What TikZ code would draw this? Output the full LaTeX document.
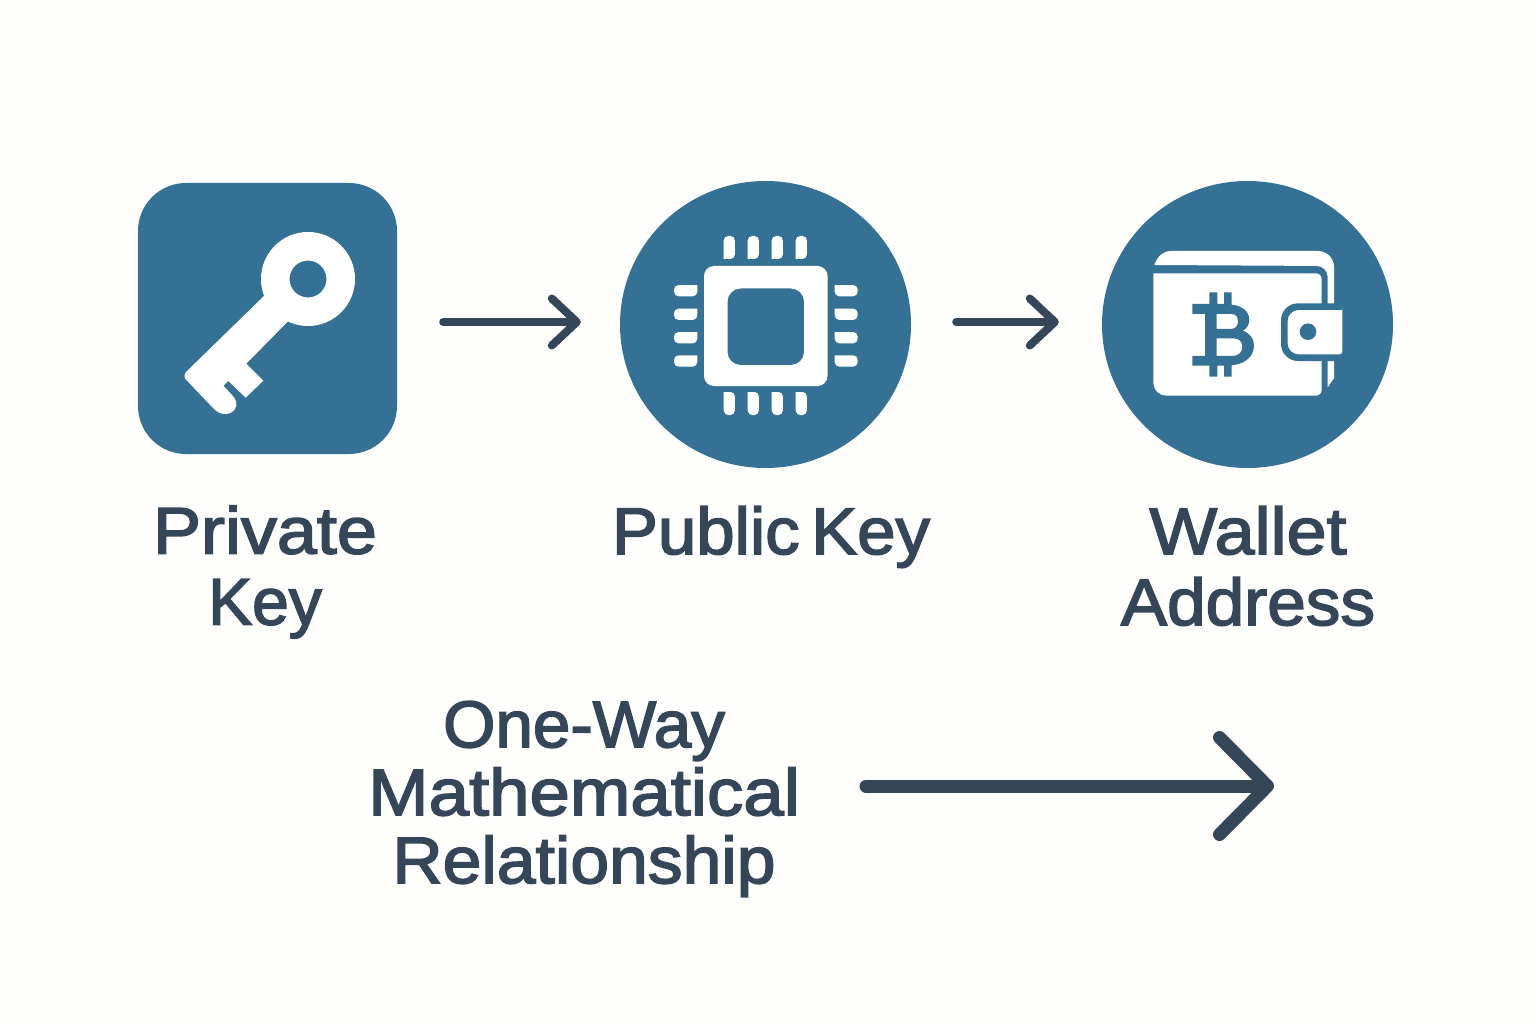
\documentclass[tikz,border=0pt]{standalone}
\usepackage{fontspec}
\setmainfont[FakeBold=2.4,FakeStretch=1.09,WordSpace=0.6]{Liberation Sans}
\usetikzlibrary{arrows.meta,shapes.geometric}
\definecolor{iconblue}{HTML}{347194}
\definecolor{inkslate}{HTML}{364659}
\definecolor{papertone}{HTML}{FEFEFC}
\newcommand{\capwidth}[1]{\addfontfeature{FakeStretch=#1}}
\tikzset{
  icondisc/.style={ellipse,fill=iconblue,inner sep=0pt,minimum width=291pt,minimum height=287pt},
  iconsquare/.style={rectangle,fill=iconblue,inner sep=0pt,rounded corners=48pt,minimum width=259pt,minimum height=271pt},
  caption/.style={text=inkslate,align=center,inner sep=0pt,font=\fontsize{66}{71}\selectfont},
  flowarrow/.style={draw=inkslate,line width=8pt,line cap=round,-{Straight Barb[round,length=25pt,width=47pt,line width=8pt]}},
  pin/.style={fill=white,rounded corners=4.5pt}
}
\begin{document}
\begin{tikzpicture}[x=1pt,y=-1pt]
		\useasboundingbox[fill=papertone] (0,0) rectangle (1536,1024);
		% Place nodes
		\node [iconsquare] (keybox) at (267.5,318.5) {};
		\node [icondisc] (chipdisc) at (765.5,324.5) {};
		\node [icondisc] (walletdisc) at (1247.5,324.5) {};

		\node [caption] (private) at (265,572) {Private\\{\capwidth{1.0}Key}};
		\node [caption] (public) at (771,537) {{\capwidth{1.045}Public Key}};
		\node [caption] (address) at (1248,566) {Wallet\\{\capwidth{1.05}Address}};
		\node [caption,font=\fontsize{66}{68}\selectfont] (relation) at (584,799) {{\capwidth{1.02}One-Way}\\{\capwidth{1.1}Mathematical}\\{\capwidth{1.055}Relationship}};

		% Arrows
		\draw [flowarrow,shorten <=46pt,shorten >=39pt] (keybox.east |- 0,322) -- (chipdisc.west |- 0,322);
		\draw [flowarrow,shorten <=45pt,shorten >=43pt] (chipdisc.east |- 0,322) -- (walletdisc.west |- 0,322);
		\coordinate (bigstart) at (866,786);
		\coordinate (bigtip) at (1274,786);
		\draw [draw=inkslate,line width=13pt,line cap=round,-{Straight Barb[round,length=48pt,width=97pt,line width=13pt]}] (bigstart) -- (bigtip);

		% Key
		\fill [white] (264.3,295.7) -- (186,372) [rounded corners=3pt] -- (183.5,377) [sharp corners] -- (215,410)
			.. controls (222,416) and (231,415) .. (235,409) .. controls (238,404) and (236,399) .. (232,395)
			-- (223.3,385.7) -- (228.3,381) -- (245.7,397.7)
			-- (263.3,380.7) -- (246.3,363.7) -- (288.3,321) -- cycle;
		\fill [white,even odd rule] (308,279) circle [radius=47] (308,279) circle [radius=18.5];

		% Chip
		\fill [white,even odd rule,rounded corners=10pt] (704,266) rectangle (827.5,386)
			[rounded corners=13pt] (727.5,288.5) rectangle (804,365);
		\foreach \pinx in {729.3,753.3,777.3,801.3} {
			\fill [pin] (\pinx-5.6,259) -- (\pinx-5.6,236) -- (\pinx+5.6,236) -- (\pinx+5.6,259) [sharp corners] -- cycle;
			\fill [pin] (\pinx-5.6,392) -- (\pinx-5.6,415) -- (\pinx+5.6,415) -- (\pinx+5.6,392) [sharp corners] -- cycle;
		}
		\foreach \piny in {290.7,314.3,337.7,361} {
			\fill [pin] (697.3,\piny-5.6) -- (674,\piny-5.6) -- (674,\piny+5.6) -- (697.3,\piny+5.6) [sharp corners] -- cycle;
			\fill [pin] (834.7,\piny-5.6) -- (857.7,\piny-5.6) -- (857.7,\piny+5.6) -- (834.7,\piny+5.6) [sharp corners] -- cycle;
		}

		% Wallet
		\fill [white] (1154.3,265) .. controls (1157,257) and (1163,251) .. (1171,251)
			[rounded corners=16pt] -- (1334,251) [sharp corners] -- (1334,378) -- (1327.7,387.3)
			[rounded corners=11pt] -- (1327.7,266) [sharp corners] -- cycle;
		\fill [white] (1167,273.3) [rounded corners=6pt] -- (1321.7,273.3) -- (1321.7,395.7) [rounded corners=13pt] -- (1153.3,395.7) [sharp corners] -- (1153.3,273.3) -- cycle;
		\fill [iconblue] (1342.3,303.3) [rounded corners=17pt] -- (1281,303.3) -- (1281,361) [sharp corners] -- (1342.3,361) -- cycle;
		\fill [white] (1342.3,310) [rounded corners=11pt] -- (1287.7,310) -- (1287.7,354.3) [rounded corners=3pt] -- (1342.3,354.3) -- (1342.3,310) [sharp corners] -- cycle;
		\fill [iconblue] (1308,331.7) circle [radius=8.3];

		% Bitcoin sign
		\begin{scope}[shift={(1100,230)},x=0.3333pt,y=-0.3333pt]
			\fill [iconblue,even odd rule] (277,222) -- (328,222) -- (328,187) -- (352,187) -- (352,222) -- (372,222) -- (372,187) -- (395,187) -- (395,224)
				.. controls (430,228) and (448,246) .. (448,270) .. controls (448,284) and (440,296) .. (428,302)
				.. controls (450,310) and (462,326) .. (462,346) .. controls (462,380) and (435,402) .. (395,406)
				-- (395,440) -- (372,440) -- (372,407) -- (352,407) -- (352,440) -- (328,440) -- (328,407) -- (277,407) -- (277,378) -- (315,378) -- (315,252) -- (277,252) -- cycle
				(350,252) -- (395,252) .. controls (410,252) and (414,264) .. (414,274) .. controls (414,288) and (406,297) .. (392,297) -- (350,297) -- cycle
				(350,325) -- (400,325) .. controls (418,325) and (427,336) .. (427,350) .. controls (427,368) and (414,378) .. (398,378) -- (350,378) -- cycle;
		\end{scope}
\end{tikzpicture}
\end{document}
